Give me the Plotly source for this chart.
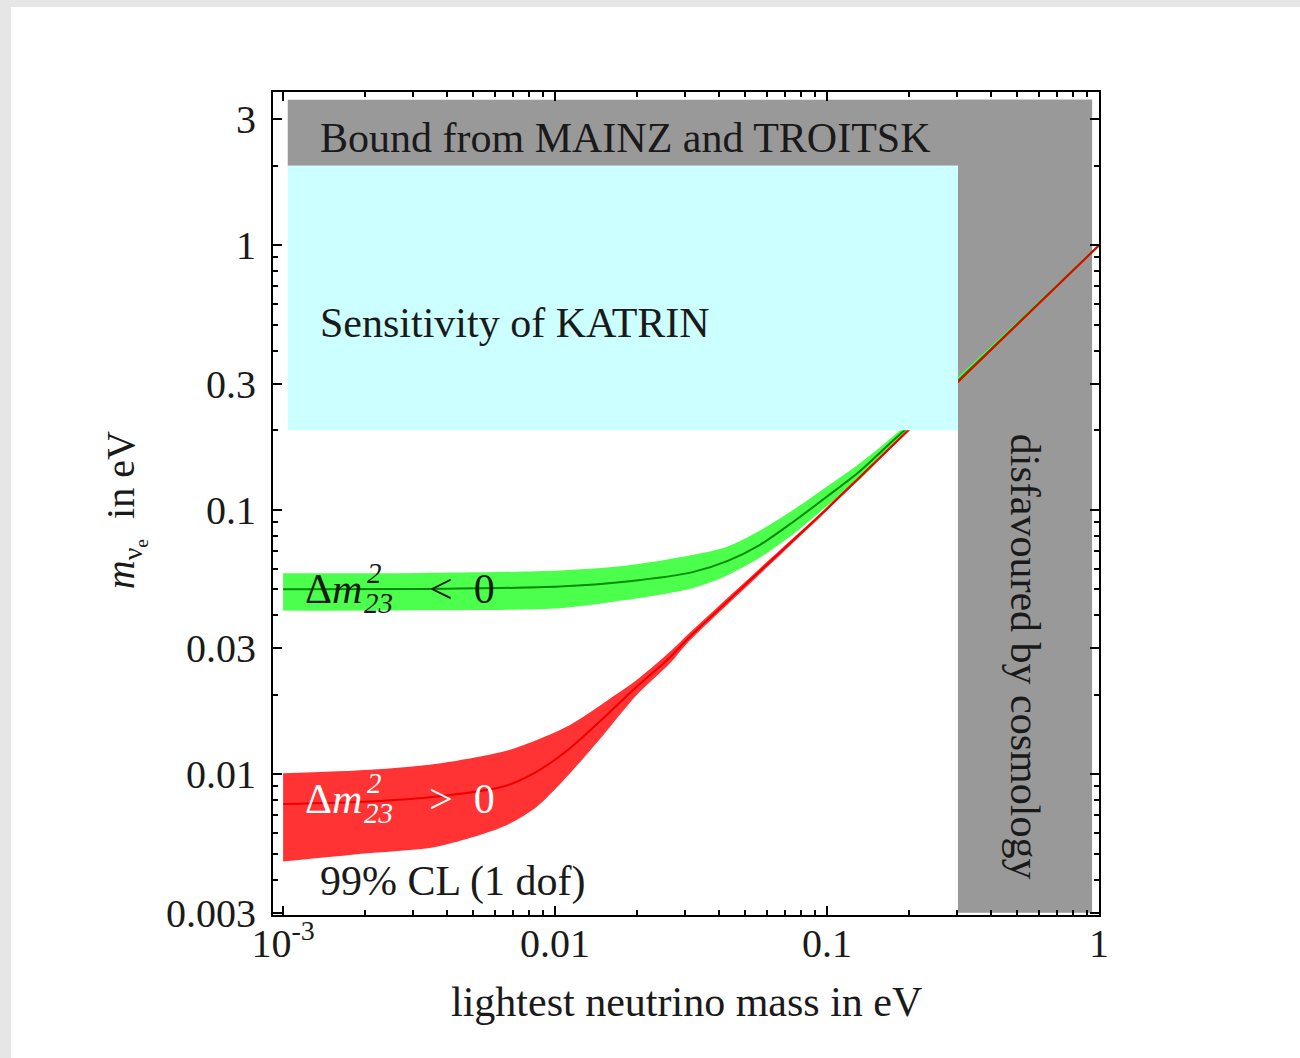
import numpy as np
import plotly.graph_objects as go

# ---------------- data ----------------
# inverted hierarchy (Delta m^2_23 < 0) band, green
inv_x      = [0.001, 0.0032, 0.0104, 0.0184, 0.0323, 0.0429, 0.0567, 0.0752, 0.100, 0.132, 0.175, 0.240, 0.300, 0.500, 1.000]
inv_center = [0.0501, 0.0502, 0.0513, 0.0536, 0.0583, 0.0640, 0.0738, 0.0902, 0.1123, 0.140, 0.183, 0.245, 0.305, 0.504, 1.001]
inv_upper  = [0.0576, 0.0577, 0.0590, 0.0616, 0.0676, 0.0725, 0.0835, 0.1000, 0.1225, 0.150, 0.190, 0.252, 0.314, 0.514, 1.012]
inv_lower  = [0.0416, 0.0417, 0.0425, 0.0457, 0.0507, 0.0565, 0.0660, 0.0810, 0.1035, 0.130, 0.176, 0.238, 0.296, 0.494, 0.990]

# normal hierarchy (Delta m^2_23 > 0) band, red
nor_x      = [0.001, 0.00209, 0.00367, 0.00646, 0.00857, 0.01135, 0.01505, 0.0200, 0.0265, 0.0305, 0.0567, 0.100, 0.200, 0.300, 0.500, 1.000]
nor_center = [0.00772, 0.00789, 0.00824, 0.00900, 0.01025, 0.01256, 0.01631, 0.02148, 0.02773, 0.0323, 0.0587, 0.1010, 0.201, 0.301, 0.501, 1.000]
nor_upper  = [0.0101, 0.0104, 0.01096, 0.0122, 0.0135, 0.01538, 0.01858, 0.02277, 0.02912, 0.0335, 0.0602, 0.1025, 0.203, 0.303, 0.503, 1.002]
nor_lower  = [0.00468, 0.00504, 0.00533, 0.00635, 0.00755, 0.0101, 0.0141, 0.01998, 0.02634, 0.0312, 0.0572, 0.0995, 0.199, 0.299, 0.499, 0.998]

# excluded / sensitivity regions
region_x_min = 0.00104
region_x_max = 0.943
cosmology_bound = 0.303       # lightest mass, eV
mainz_troitsk_bound = 2.0     # m_nu_e, eV
region_y_top = 3.55
region_y_bottom = 0.003
katrin_sensitivity = 0.2      # m_nu_e, eV

# axes
x_range = [0.000918, 1.0]
y_range = [0.00294, 3.80]
x_tickvals = [0.001, 0.01, 0.1, 1]
x_ticktext = ["10<sup>-3</sup>", "0.01", "0.1", "1"]
y_tickvals = [0.003, 0.01, 0.03, 0.1, 0.3, 1, 3]
y_ticktext = ["0.003", "0.01", "0.03", "0.1", "0.3", "1", "3"]
x_minor = [m * 10.0 ** e for e in (-3, -2, -1) for m in range(2, 10)]
y_minor = [m * 10.0 ** e for e in (-3, -2, -1, 0) for m in range(2, 10) if m * 10.0 ** e < 3.8]

FONT = "Liberation Serif, Times New Roman, serif"
TXT = "#1a1a1a"

fig = go.Figure()


def band(xs, lo, hi, center, fill, linecol):
    fig.add_trace(go.Scatter(x=xs, y=lo, mode="lines",
                             line=dict(width=0, shape="spline", smoothing=0.8),
                             hoverinfo="skip", showlegend=False))
    fig.add_trace(go.Scatter(x=xs, y=hi, mode="lines", fill="tonexty", fillcolor=fill,
                             line=dict(width=0, shape="spline", smoothing=0.8),
                             hoverinfo="skip", showlegend=False))
    fig.add_trace(go.Scatter(x=xs, y=center, mode="lines",
                             line=dict(color=linecol, width=2, shape="spline", smoothing=0.8),
                             showlegend=False))


band(inv_x, inv_lower, inv_upper, inv_center, "#4cff4c", "#008a00")
band(nor_x, nor_lower, nor_upper, nor_center, "#ff3333", "#ee0000")

shapes = []
# page background: white panel on light gray
shapes.append(dict(type="rect", xref="paper", yref="paper",
                   x0=-0.3172, x1=1.25, y0=-0.18, y1=1.1032,
                   fillcolor="white", line=dict(width=0), layer="below"))
# gray excluded regions
shapes.append(dict(type="rect", xref="x", yref="y",
                   x0=region_x_min, x1=region_x_max, y0=mainz_troitsk_bound, y1=region_y_top,
                   fillcolor="#999999", line=dict(width=0), layer="below"))
shapes.append(dict(type="rect", xref="x", yref="y",
                   x0=cosmology_bound, x1=region_x_max, y0=region_y_bottom, y1=region_y_top,
                   fillcolor="#999999", line=dict(width=0), layer="below"))
# KATRIN sensitivity (drawn above the bands)
shapes.append(dict(type="rect", xref="x", yref="y",
                   x0=region_x_min, x1=cosmology_bound, y0=katrin_sensitivity, y1=mainz_troitsk_bound,
                   fillcolor="#ccffff", line=dict(width=0), layer="above"))

L = np.log10
ann = []


def txt(x, y, s, size=42, color=TXT, xanchor="left", angle=0, xshift=0, yshift=0):
    ann.append(dict(x=L(x), y=L(y), xref="x", yref="y", text=s, showarrow=False,
                    xanchor=xanchor, yanchor="middle", textangle=angle,
                    xshift=xshift, yshift=yshift,
                    font=dict(family=FONT, size=size, color=color)))


txt(0.001345, 2.55, "Bound from MAINZ and TROITSK")
txt(0.001345, 0.509, "Sensitivity of KATRIN")
txt(0.001345, 0.00392, "99% CL (1 dof)")
txt(0.535, 0.0278, "disfavoured by cosmology", xanchor="center", angle=90)

for (ay, col, sign) in [(0.0501, TXT, "&lt;"), (0.0081, "white", "&gt;")]:
    txt(0.001185, ay, "Δ<i>m</i>", color=col)
    txt(0.001185, ay, "<i>2</i>", size=29, color=col, xshift=62, yshift=16)
    txt(0.001185, ay, "<i>23</i>", size=29, color=col, xshift=59, yshift=-14)
    txt(0.001185, ay, sign + "  0", color=col, xshift=124)

# axis titles
ann.append(dict(x=0.5, y=-0.1057, xref="paper", yref="paper", showarrow=False,
                text="lightest neutrino mass in eV", xanchor="center", yanchor="middle",
                font=dict(family=FONT, size=42, color=TXT)))
ann.append(dict(x=-0.179, y=0.492, xref="paper", yref="paper", showarrow=False,
                text="<i>m</i><sub>ν<sub>e</sub></sub>  in eV", xanchor="center", yanchor="middle",
                textangle=-90, font=dict(family=FONT, size=40, color=TXT)))

axis_common = dict(
    type="log", showgrid=False, zeroline=False,
    showline=True, linecolor="black", linewidth=2, mirror="allticks",
    ticks="inside", ticklen=9, tickwidth=2, tickcolor="black",
    tickfont=dict(family=FONT, size=40, color=TXT),
)

fig.update_layout(
    width=1300, height=1058, autosize=False,
    margin=dict(l=273, r=201, t=92, b=143, pad=0),
    paper_bgcolor="#e6e6e6", plot_bgcolor="white",
    shapes=shapes, annotations=ann, showlegend=False,
    xaxis=dict(**axis_common, range=[L(x_range[0]), L(x_range[1])],
               tickmode="array", tickvals=x_tickvals, ticktext=x_ticktext,
               ticklabelstandoff=-8,
               minor=dict(tickmode="array", tickvals=x_minor, ticks="inside",
                          ticklen=5, tickwidth=1.5, tickcolor="black", showgrid=False)),
    yaxis=dict(**axis_common, range=[L(y_range[0]), L(y_range[1])],
               tickmode="array", tickvals=y_tickvals, ticktext=y_ticktext,
               ticklabelstandoff=7,
               minor=dict(tickmode="array", tickvals=y_minor, ticks="inside",
                          ticklen=5, tickwidth=1.5, tickcolor="black", showgrid=False)),
)

fig.write_html("out.html")
